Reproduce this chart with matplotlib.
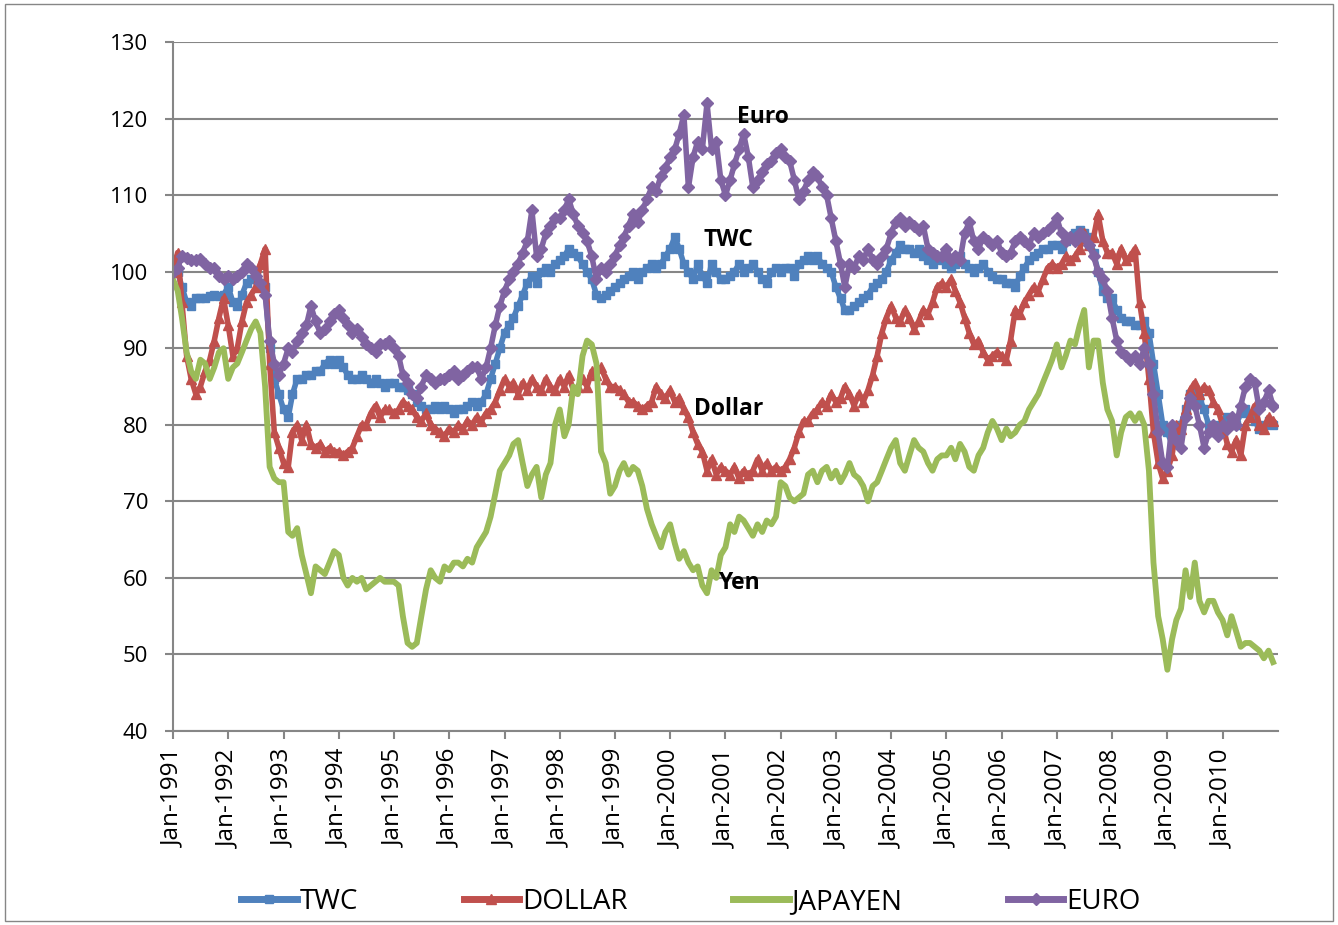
import matplotlib
matplotlib.use("Agg")
import matplotlib.pyplot as plt
import matplotlib.dates as mdates
import pandas as pd
from matplotlib.patches import Rectangle

# monthly readings, Jan-1991 .. Dec-2010
months = pd.date_range("1991-01-01", "2010-12-01", freq="MS")

twc = [
    100, 100, 98, 96, 95.5, 96.5, 96.5, 96.5, 96.8, 97, 96.8, 97,
    98, 96, 95.5, 97, 98.5, 99, 99, 98.5, 98, 90, 86, 84,
    82, 81, 84, 86, 86, 86.5, 86.5, 87, 87, 88, 88.5, 88,
    88.5, 87.5, 86.5, 86, 86, 86.5, 86, 85.5, 86, 85.5, 85, 85.5,
    85.5, 85, 85, 84.5, 84, 83, 82.5, 82, 82, 82.5, 82, 82.5,
    82, 81.5, 82, 82, 82.5, 83, 82.5, 83, 84, 86, 88, 90,
    92, 93, 94, 95.5, 97, 98.5, 99.5, 98.5, 100, 100.5, 100, 101,
    101.5, 102, 103, 102.5, 102, 101, 100, 99, 97, 96.5, 97, 97.5,
    98, 98.5, 99, 99.5, 100, 99, 100, 100.5, 101, 100.5, 101, 102,
    103, 104.5, 103, 101, 100, 99, 101, 99.5, 98.5, 101, 100, 99,
    99, 99.5, 100, 101, 100, 100.5, 101, 100, 99, 98.5, 100, 100.5,
    100, 100.5, 100.5, 99.5, 101, 101.5, 102, 101.5, 102, 101, 100.5, 100,
    98, 96.5, 95, 95, 95.5, 96, 96.5, 97, 98, 98.5, 99, 100,
    101.5, 102.5, 103.5, 103, 103, 102.5, 103, 102, 101.5, 101, 102, 101.5,
    101, 100.5, 101, 102, 101, 100.5, 100, 100.5, 101, 100, 99.5, 99,
    99, 98.5, 98.5, 98, 99.5, 100.5, 101.5, 102, 102.5, 103, 103, 103.5,
    103.5, 103, 104, 104.5, 105, 105.5, 105, 104.5, 102.5, 100, 97.5, 96.5,
    96.5, 95, 94, 93.5, 93.5, 93, 93, 93.5, 92, 88, 84, 80,
    79, 77.5, 79, 80, 82, 84, 84.5, 83.5, 82, 80, 79, 80,
    80, 81, 80.5, 80, 81.5, 82, 81, 80.5, 79.5, 80, 80.5, 80,
]

dollar = [
    100, 102.5, 96, 89, 86, 84, 85, 87, 88.5, 91, 94, 96.5,
    93, 89, 90, 93.5, 96, 97, 98, 101, 103, 88, 79, 77,
    75, 74.5, 79, 80, 78, 80, 77.5, 77, 77.5, 76.5, 77, 76.5,
    76.5, 76, 76.5, 77, 78.5, 80, 80, 81.5, 82.5, 81, 82, 82,
    81.5, 82, 83, 82.5, 82, 81, 80.5, 81.5, 80, 79.5, 79, 78.5,
    79.5, 79, 80, 79.5, 80.5, 80, 81, 80.5, 81.5, 82, 83, 84.5,
    86, 85, 85.5, 84, 85.5, 84.5, 86, 85, 84.5, 86, 85, 84.5,
    86, 85, 86.5, 84.5, 85, 86, 85, 87, 86.5, 87.5, 86, 85,
    85, 84.5, 84, 83, 83, 82.5, 82, 82.5, 83, 85, 84, 83.5,
    84.5, 83, 83.5, 82, 81, 79, 77.5, 76.5, 74, 75.5, 73.5, 74.5,
    74, 73.5, 74.5, 73, 74, 73.5, 74, 75.5, 74, 75, 74, 74.5,
    74, 74.5, 75.5, 77, 79, 80.5, 80.5, 81.5, 82, 83, 82.5, 84,
    83, 83.5, 85, 84, 82.5, 84, 83, 84.5, 86.5, 89, 92, 94,
    95.5, 94, 93.5, 95, 94, 92.5, 93.5, 95, 94.5, 96, 98, 98.5,
    98, 99, 97.5, 96, 94, 92, 90.5, 91, 89.5, 88.5, 89, 89.5,
    89, 88.5, 91, 95, 94.5, 96, 97, 98, 97.5, 99, 100.5, 101,
    100.5, 101, 102, 101.5, 102, 103, 105, 103.5, 104.5, 107.5, 104, 102.5,
    102.5, 101, 103, 101.5, 102, 103, 96, 92, 86, 79, 75, 73,
    74, 76, 80, 79.5, 82, 84.5, 85.5, 84, 85, 84.5, 83, 82,
    80, 77.5, 76.5, 78, 76, 80, 81, 82.5, 80, 79.5, 81, 80.5,
]

japayen = [
    99, 97.5, 94, 89.5, 87, 86, 88.5, 88, 86, 87.5, 89.5, 90,
    86, 87.5, 88, 89.5, 91, 92.5, 93.5, 92, 85, 74.5, 73, 72.5,
    72.5, 66, 65.5, 66.5, 63, 60.5, 58, 61.5, 61, 60.5, 62, 63.5,
    63, 60, 59, 60, 59.5, 60, 58.5, 59, 59.5, 60, 59.5, 59.5,
    59.5, 59, 55, 51.5, 51, 51.5, 55, 58.5, 61, 60, 59.5, 61.5,
    61, 62, 62, 61.5, 62.5, 62, 64, 65, 66, 68, 71, 74,
    75, 76, 77.5, 78, 75, 72, 73.5, 74.5, 70.5, 73.5, 75, 80,
    82, 78.5, 80, 85, 84, 89, 91, 90.5, 88, 76.5, 75, 71,
    72, 74, 75, 73.5, 74.5, 74, 72, 69, 67, 65.5, 64, 66,
    67, 64.5, 62.5, 63.5, 62, 61, 61.5, 59, 58, 61, 60, 63,
    64, 67, 66, 68, 67.5, 66.5, 65.5, 67, 66, 67.5, 67, 68,
    72.5, 72, 70.5, 70, 70.5, 71, 73.5, 74, 72.5, 74, 74.5, 73,
    74, 72.5, 73.5, 75, 73.5, 73, 72, 70, 72, 72.5, 74, 75.5,
    77, 78, 75, 74, 76, 78, 77, 76.5, 75, 74, 75.5, 76,
    76, 77, 75.5, 77.5, 76.5, 74.5, 74, 76, 77, 79, 80.5, 79.5,
    78, 79.5, 78.5, 79, 80, 80.5, 82, 83, 84, 85.5, 87, 88.5,
    90.5, 87.5, 89, 91, 90.5, 93, 95, 87.5, 91, 91, 85.5, 82,
    80.5, 76, 79, 81, 81.5, 80.5, 81.5, 80, 74, 62, 55, 52,
    48, 52, 54.5, 56, 61, 57.5, 62, 57, 55.5, 57, 57, 55.5,
    54.5, 52.5, 55, 53, 51, 51.5, 51.5, 51, 50.5, 49.5, 50.5, 49,
]

euro = [
    100, 100.5, 102, 101.8, 101.5, 101.5, 101.7, 101, 100.5, 100.5, 99.5, 99,
    99.5, 99, 99.5, 100, 101, 100.5, 99.5, 98.5, 97, 91, 88, 86.5,
    88, 90, 89.5, 91, 92, 93, 95.5, 93.5, 92, 92.5, 93.5, 94.5,
    95, 94, 93, 92, 92.5, 91.5, 90.5, 90, 89.5, 90.5, 90.5, 91,
    90, 89, 86.5, 85.5, 84, 83.5, 85, 86.5, 86, 85.5, 86, 86,
    86.5, 87, 86, 86.5, 87, 87.5, 87.5, 86, 87.5, 90, 93, 95.5,
    97.5, 99, 100, 101, 102.5, 104, 108, 102, 103, 105, 106, 107,
    107, 108, 109.5, 107.5, 106, 105, 104, 102, 99, 100.5, 100, 101,
    102, 103.5, 104.5, 106, 107.5, 106.5, 108, 109.5, 111, 110.5, 112.5, 113.5,
    115, 116, 118, 120.5, 111, 115, 117, 116, 122, 116, 117, 112,
    110, 112, 114, 116, 118, 115, 111, 112, 113, 114, 114.5, 115.5,
    116, 115, 114.5, 112, 109.5, 110.5, 112, 113, 112.5, 111, 110, 107,
    104, 101, 98, 101, 100.5, 102, 101.5, 103, 101.5, 101, 102, 103,
    105, 106.5, 107, 106, 106.5, 106, 105.5, 106, 103, 102.5, 102, 102,
    103, 101.5, 102, 101.5, 105, 106.5, 104, 103, 104.5, 104, 103.5, 104,
    102.5, 102, 102.5, 104, 104.5, 104, 103.5, 105, 104.5, 105, 105.5, 106,
    107, 105, 104, 104.5, 104, 105, 104.5, 103.5, 102, 100, 99, 97.5,
    94, 91, 89.5, 89, 88.5, 89, 88, 90, 88, 84, 79, 75,
    74.5, 80, 78, 77, 81, 83.5, 82.5, 80, 77, 79, 80, 78.5,
    80, 79.5, 81, 80, 82.5, 85, 86, 85.5, 82, 83, 84.5, 82.5,
]

series_names = ["TWC", "DOLLAR", "JAPAYEN", "EURO"]
labels = {"Euro": ("2001-03-20", 120.2), "TWC": ("2000-08-10", 104.1),
          "Dollar": ("2000-06-10", 82.1), "Yen": ("2000-11-10", 59.3)}

plt.rcParams['font.family'] = ['Open Sans', 'DejaVu Sans']

fig = plt.figure(figsize=(13.38, 9.25), dpi=100)
ax = fig.add_axes([0.1293, 0.2097, 0.8257, 0.7449])

ax.plot(months, twc, color='#4F81BD', linewidth=4, marker='s', markersize=6,
        label=series_names[0])
ax.plot(months, dollar, color='#C0504D', linewidth=4, marker='^', markersize=7,
        label=series_names[1])
ax.plot(months, japayen, color='#9BBB59', linewidth=4.2, label=series_names[2])
ax.plot(months, euro, color='#8064A2', linewidth=4, marker='D', markersize=6,
        label=series_names[3])

for txt, (d, v) in labels.items():
    ax.text(pd.Timestamp(d), v, txt, fontsize=16.5, fontweight='bold',
            ha='left', va='center', color='black')

ax.set_ylim(40, 130)
ax.set_yticks(range(40, 131, 10))
ax.set_xlim(pd.Timestamp("1991-01-01"), pd.Timestamp("2011-01-01"))
ax.set_xticks(pd.date_range("1991-01-01", "2010-01-01", freq="YS"))
ax.xaxis.set_major_formatter(mdates.DateFormatter('%b-%Y'))
plt.setp(ax.get_xticklabels(), rotation=90)

ax.grid(axis='y', color='#868686', linewidth=1.5)
ax.set_axisbelow(True)
for s in ['top', 'right']:
    ax.spines[s].set_visible(False)
for s in ['left', 'bottom']:
    ax.spines[s].set_color('#868686')
    ax.spines[s].set_linewidth(1.5)
ax.tick_params(axis='both', colors='#868686', labelcolor='black',
               length=6, width=1.5)
ax.tick_params(axis='y', labelsize=16, pad=12)
ax.tick_params(axis='x', labelsize=17.5, pad=7)

leg = fig.legend(loc='center', bbox_to_anchor=(0.5 + 22 / 1338, 1 - 902 / 925), ncol=4,
                 frameon=False, fontsize=20, handlelength=2.0, columnspacing=3.8,
                 handletextpad=0.1)
for h in leg.legend_handles:
    h.set_linewidth(5)

fig.patches.append(Rectangle((0.004, 0.004), 0.992, 0.992, transform=fig.transFigure,
                             fill=False, edgecolor='#868686', linewidth=1))

fig.savefig("out.png", dpi=100)
